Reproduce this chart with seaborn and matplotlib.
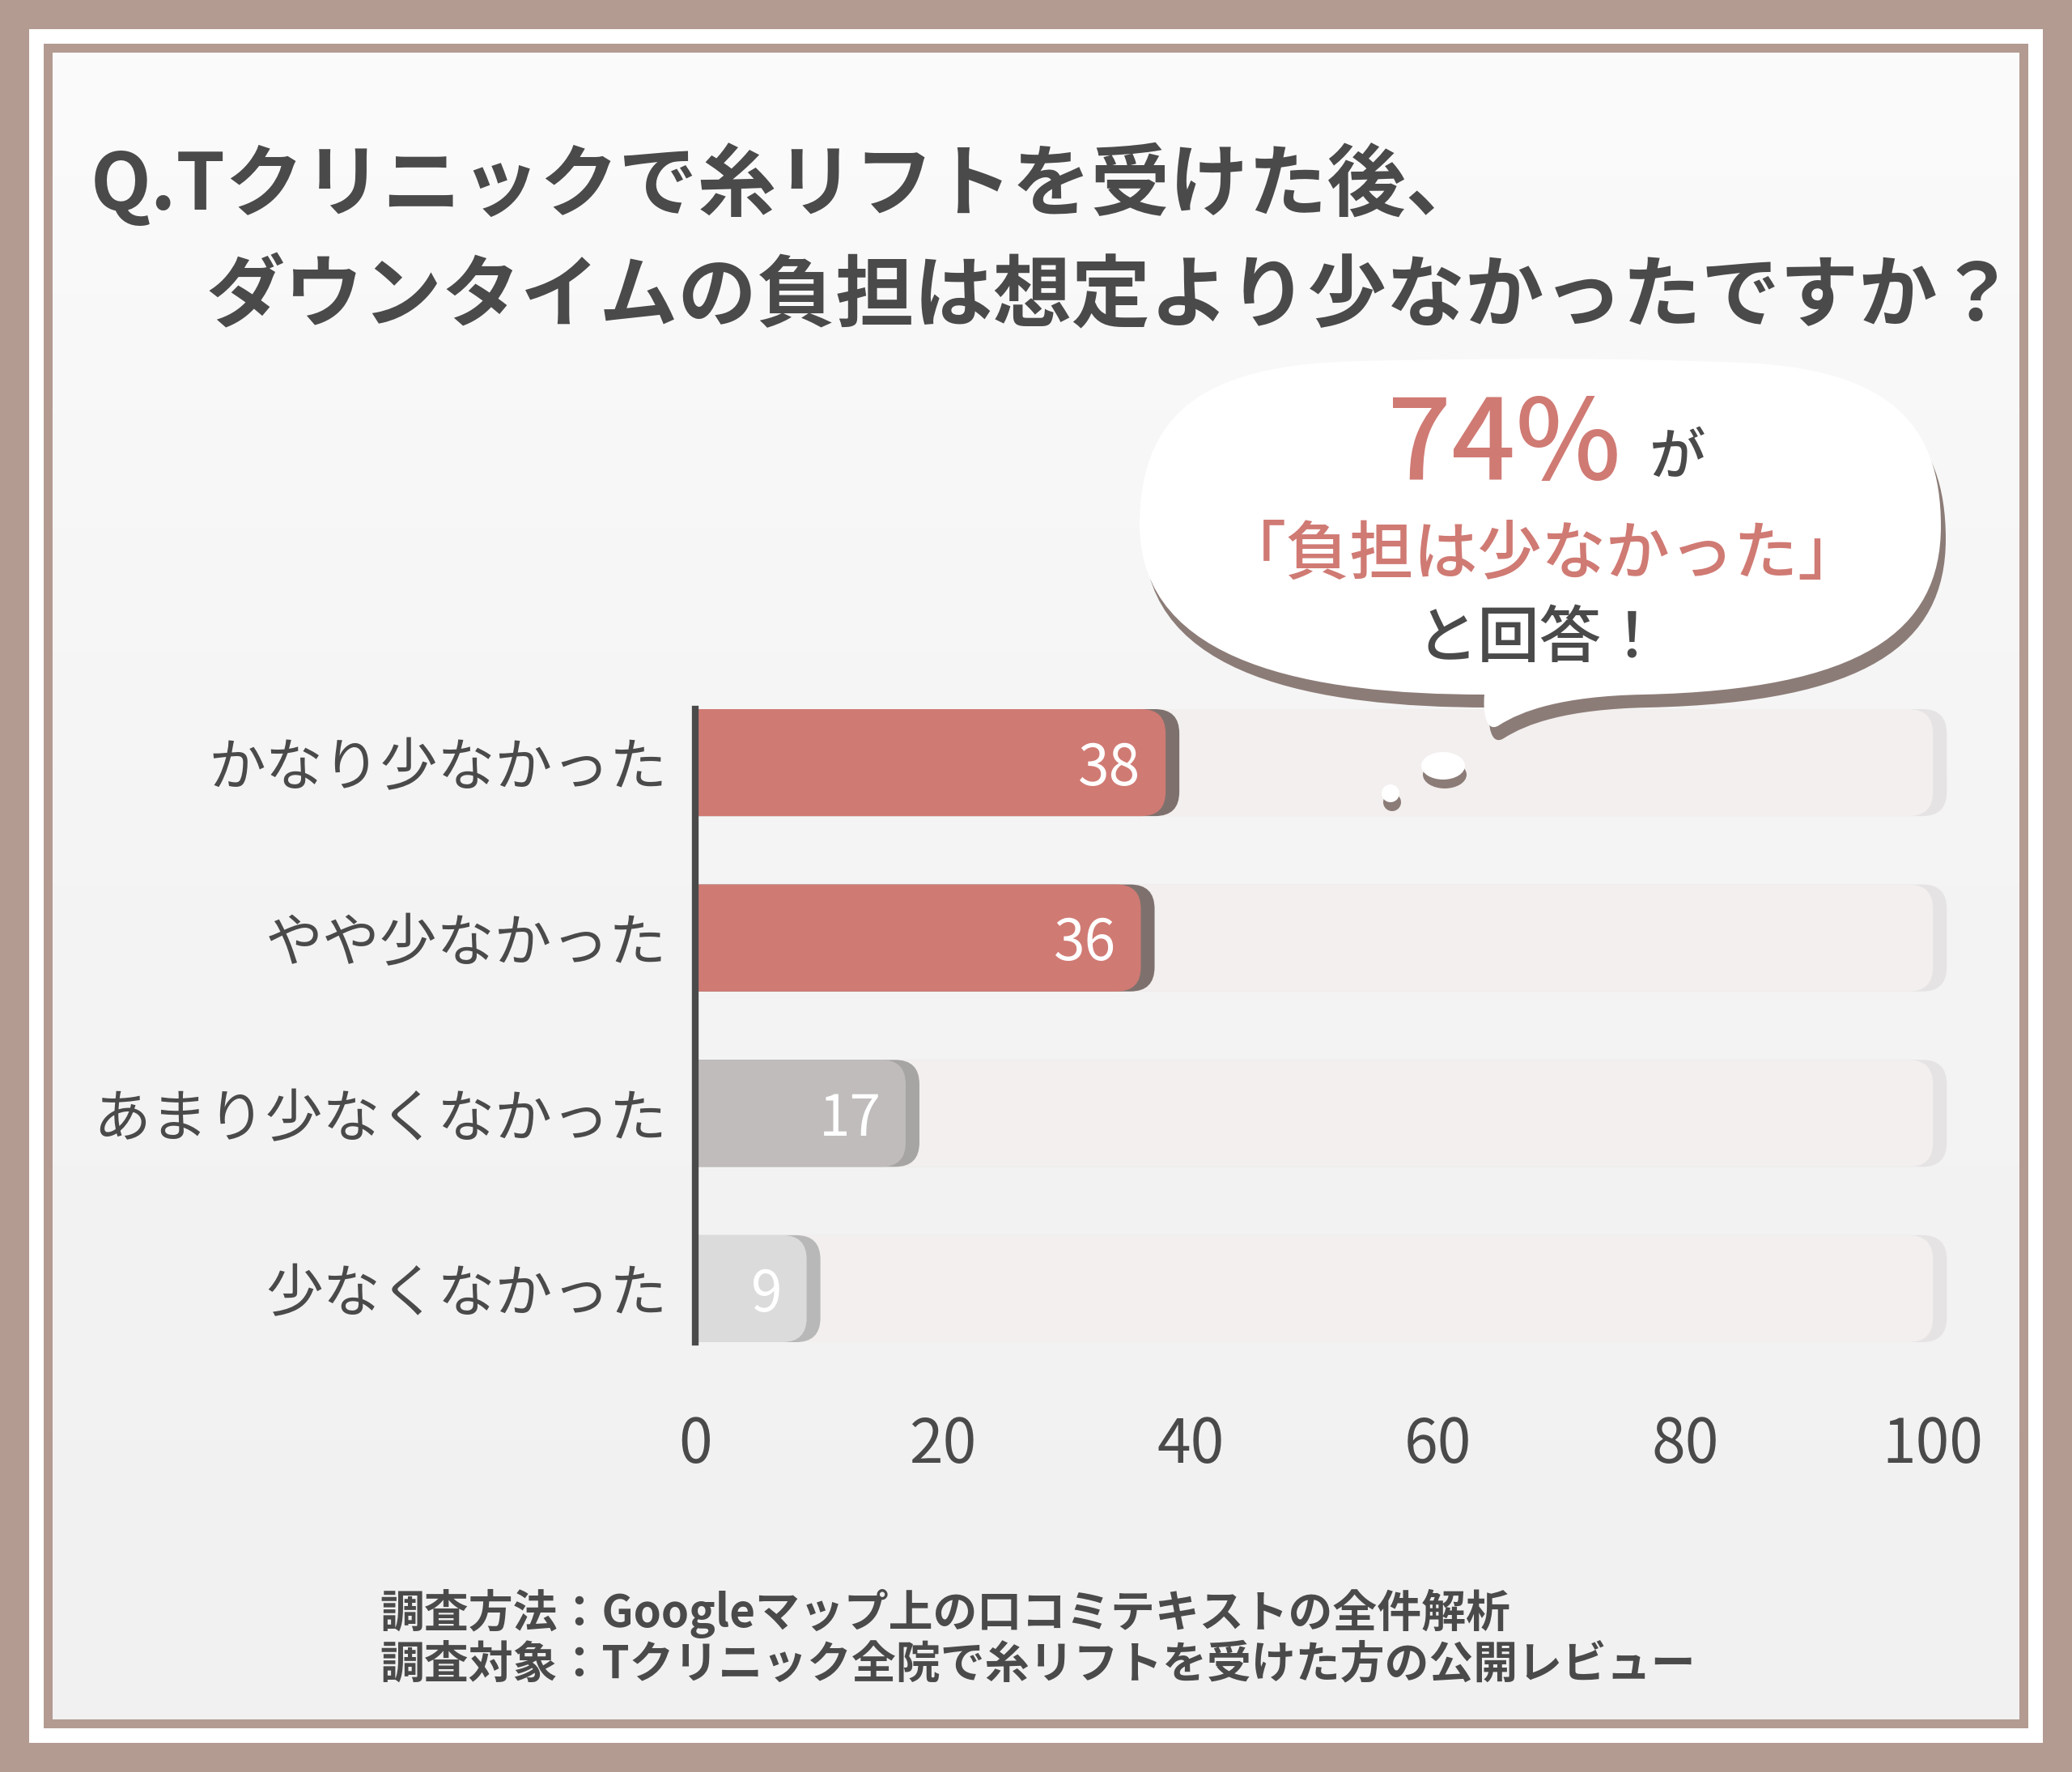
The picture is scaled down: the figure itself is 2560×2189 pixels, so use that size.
import numpy as np
import pandas as pd
import matplotlib
matplotlib.use("Agg")
import matplotlib.pyplot as plt
import seaborn as sns
from matplotlib.patches import FancyBboxPatch, Rectangle, PathPatch, Ellipse
from matplotlib.path import Path
from matplotlib.colors import LinearSegmentedColormap

# Survey answers
categories = ["かなり少なかった", "やや少なかった", "あまり少なくなかった", "少なくなかった"]
values = [38, 36, 17, 9]
x_ticks = [0, 20, 40, 60, 80, 100]
track_max = [100, 100, 100, 100]

# Colours
bar_colors = ["#D07A74", "#D07A74", "#BFBCBB", "#DCDBDB"]
shade_colors = ["#7E716D", "#7E716D", "#A7A5A4", "#B9B8B8"]
TRACK, TRACK_SHADE = "#F2EFEE", "#E5E3E3"
DARK, RED, BROWN = "#4A4A4A", "#D07A74", "#B39B92"

title_lines = ["Q.Tクリニックで糸リフトを受けた後、",
               "ダウンタイムの負担は想定より少なかったですか？"]
callout = ["74%", "が", "「負担は少なかった」", "と回答！"]
footer_lines = ["調査方法：Googleマップ上の口コミテキストの全件解析",
                "調査対象：Tクリニック全院で糸リフトを受けた方の公開レビュー"]

W, H, DPI = 2560, 2189, 100


def fx(px):
    return px / W


def fy(py):
    return 1 - py / H


sns.set_theme(style="white")
plt.rcParams["font.family"] = ["Noto Sans CJK JP", "DejaVu Sans"]

fig = plt.figure(figsize=(W / DPI, H / DPI), dpi=DPI, facecolor=BROWN)

# Frame: brown outer, white band, thin brown line
for (x0, y0, x1, y1), col in [((36, 36, 2524, 2153), "white"),
                              ((54, 54, 2506, 2135), BROWN)]:
    fig.patches.append(Rectangle((fx(x0), fy(y1)), fx(x1) - fx(x0), fy(y0) - fy(y1),
                                 transform=fig.transFigure, fc=col, ec="none", zorder=-10))

# Soft background
bg = fig.add_axes([fx(65), fy(2124), fx(2495) - fx(65), fy(65) - fy(2124)], zorder=-1)
cmap = LinearSegmentedColormap.from_list("bg", ["#FBFBFB", "#F4F4F4", "#F1F1F1"])
bg.imshow(np.linspace(0, 1, 256)[:, None], aspect="auto", cmap=cmap, extent=[0, 1, 0, 1])
bg.axis("off")

# Main bar axes
ax = fig.add_axes([fx(859), fy(1658), 1621 / W, 782 / H])
ax.set_facecolor("none")

df = pd.DataFrame({"category": categories, "value": values, "track": track_max})
sns.barplot(data=df, x="track", y="category", orient="h", color=TRACK, width=0.61, ax=ax)
n_track = len(ax.patches)
sns.barplot(data=df, x="value", y="category", hue="category", palette=bar_colors,
            legend=False, orient="h", width=0.61, ax=ax)

ax.set_xlim(0, 106)
ax.set_ylim(3.305, -0.305)

p0 = ax.transData.transform((0, 0))
p1 = ax.transData.transform((1, 1))
sx, sy = abs(p1[0] - p0[0]), abs(p1[1] - p0[1])


def round_bar(rect, face, shade, z):
    x0, y0, w, h = rect.get_x(), rect.get_y(), rect.get_width(), rect.get_height()
    rect.remove()
    r = 30 / sx
    shift = 17 / sx
    lead = r + 1
    for dx, col, zz in [(shift, shade, z), (0, face, z + 0.1)]:
        ax.add_patch(FancyBboxPatch((x0 - lead, y0), w + lead + dx, h,
                                    boxstyle=f"round,pad=0,rounding_size={r}",
                                    mutation_aspect=sx / sy, fc=col, ec="none", zorder=zz))


patches = list(ax.patches)
for p in patches[:n_track]:
    round_bar(p, TRACK, TRACK_SHADE, 1)
for p, c, s in zip(patches[n_track:], bar_colors, shade_colors):
    round_bar(p, c, s, 1.5)

for i, v in enumerate(values):
    ax.annotate(f"{v}", xy=(v, i), xytext=(-22, 0), textcoords="offset points",
                ha="right", va="center_baseline", color="white", fontsize=50, zorder=5)

sns.despine(ax=ax, top=True, right=True, bottom=True, left=False)
ax.spines["left"].set_color(DARK)
ax.spines["left"].set_linewidth(6)
ax.set_xticks(x_ticks)
ax.tick_params(axis="x", length=0, pad=64, labelsize=54, labelcolor=DARK)
ax.tick_params(axis="y", length=0, pad=25, labelsize=51, labelcolor=DARK)
ax.set_xlabel("")
ax.set_ylabel("")

# Speech bubble
bubble = [(1408, 650),
          (1408, 500), (1500, 450), (1680, 446),
          (1860, 442), (2000, 442), (2150, 448),
          (2330, 455), (2398, 520), (2398, 650),
          (2398, 780), (2300, 852), (2030, 858),
          (1930, 860), (1880, 878), (1852, 896),
          (1836, 906), (1832, 880), (1834, 858),
          (1620, 858), (1410, 820), (1408, 650),
          (1408, 650)]
codes = [Path.MOVETO] + [Path.CURVE4] * 21 + [Path.CLOSEPOLY]
for (dx, dy), col, z in [((6, 16), "#8C7C77", 5), ((0, 0), "white", 5.1)]:
    verts = [(fx(x + dx), fy(y + dy)) for x, y in bubble]
    fig.patches.append(PathPatch(Path(verts, codes), transform=fig.transFigure,
                                 fc=col, ec="none", zorder=z))

for (cx, cy, w, h) in [(1783, 946, 54, 34), (1718, 980, 22, 22)]:
    fig.patches.append(Ellipse((fx(cx + 2), fy(cy + 11)), w / W, h / H, transform=fig.transFigure,
                               fc="#8C7C77", ec="none", zorder=5))
    fig.patches.append(Ellipse((fx(cx), fy(cy)), w / W, h / H, transform=fig.transFigure,
                               fc="white", ec="none", zorder=5.1))

fig.text(fx(1858), fy(537), callout[0], fontsize=100, color=RED, weight="medium",
         ha="center", va="center_baseline", zorder=6)
fig.text(fx(2073), fy(558), callout[1], fontsize=50, color=DARK, weight="medium",
         ha="center", va="center_baseline", zorder=6)
fig.text(fx(1905), fy(677), callout[2], fontsize=57, color=RED, weight="medium",
         ha="center", va="center_baseline", zorder=6)
fig.text(fx(1902), fy(781), callout[3], fontsize=55, color=DARK, weight="medium",
         ha="center", va="center_baseline", zorder=6)

# Title and footer
fig.text(fx(112), fy(218), title_lines[0], fontsize=70, weight="bold", color=DARK,
         ha="left", va="center_baseline")
fig.text(fx(255), fy(357), title_lines[1], fontsize=70, weight="bold", color=DARK,
         ha="left", va="center_baseline")
fig.text(fx(469), fy(1986), footer_lines[0], fontsize=39.5, weight="bold", color=DARK,
         ha="left", va="center_baseline")
fig.text(fx(469), fy(2050), footer_lines[1], fontsize=39.5, weight="bold", color=DARK,
         ha="left", va="center_baseline")

fig.savefig("out.png", dpi=DPI, facecolor=BROWN)
